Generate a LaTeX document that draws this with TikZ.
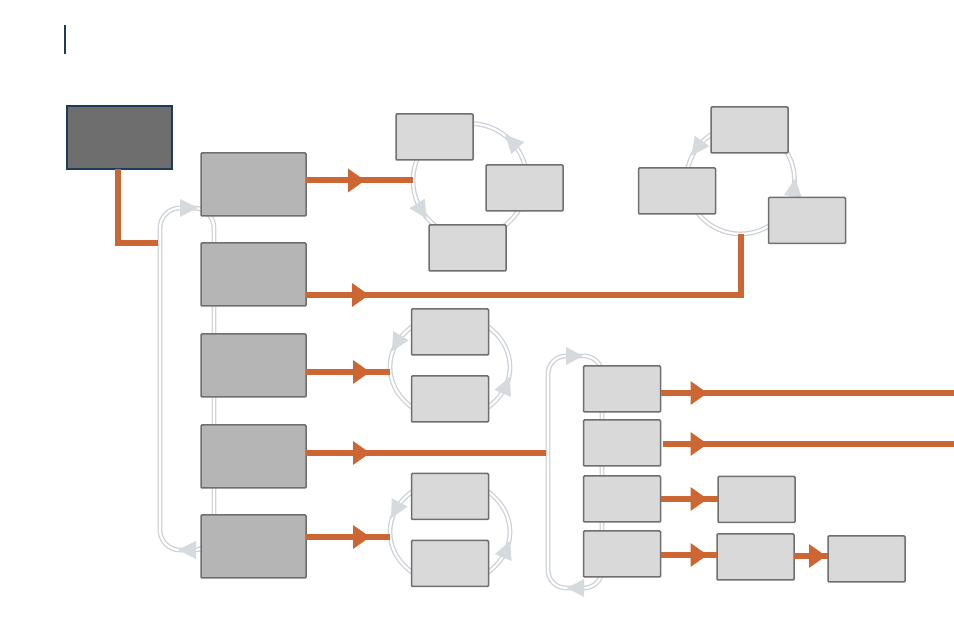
\documentclass[tikz,border=0pt]{standalone}
\usetikzlibrary{decorations.markings}
\definecolor{orng}{HTML}{CC6633}
\definecolor{navy}{HTML}{1F3A5C}
\definecolor{darkfill}{HTML}{6E6E6E}
\definecolor{midfill}{HTML}{B5B5B5}
\definecolor{lightfill}{HTML}{D9D9D9}
\definecolor{boxline}{HTML}{6F6F6F}
\definecolor{loopgray}{HTML}{CCD2D8}
\definecolor{loopfill}{HTML}{D5DADF}
\newcommand\gtri{\fill[loopfill] (9pt,0pt) -- (-9pt,9pt) -- (-9pt,-9pt) -- cycle;}
\newcommand\otri{\fill[orng] (1pt,0pt) -- (-16pt,12pt) -- (-16pt,-12pt) -- cycle;}
\begin{document}
\begin{tikzpicture}[x=1pt,y=1pt,
 darkbox/.style={draw=navy,fill=darkfill,line width=1.5pt,minimum width=105pt,minimum height=63pt,inner sep=0pt,outer sep=0pt},
 midbox/.style={draw=boxline,fill=midfill,line width=1.5pt,rounded corners=1pt,minimum width=105pt,minimum height=63pt,inner sep=0pt,outer sep=0pt},
 lightbox/.style={draw=boxline,fill=lightfill,line width=1.5pt,rounded corners=1pt,minimum width=77pt,minimum height=46pt,inner sep=0pt,outer sep=0pt},
 loopline/.style={draw=loopgray,double=white,line width=1.3pt,double distance=2.2pt},
 gmark/.style={postaction={decorate,decoration={markings,mark=at position #1 with {\gtri}}}},
 oline/.style={draw=orng,line width=6pt},
 omark/.style={postaction={decorate,decoration={markings,mark=at position #1 with {\otri}}}}]
\useasboundingbox (0,0) rectangle (954,644);
% header mark
\draw[navy,line width=1.5pt] (65,619) -- (65,590);
% gray loops (behind boxes)
\draw[loopline,rounded corners=20pt] (160,300) -- (160,436) -- (214,436) -- (214,94) -- (160,94) -- cycle;
\fill[loopfill] (198,436) -- ++(-18,9) -- ++(0,-18) -- cycle;
\fill[loopfill] (178,94) -- ++(18,9) -- ++(0,-18) -- cycle;
\draw[loopline,rounded corners=18pt] (548,200) -- (548,288) -- (602,288) -- (602,56) -- (548,56) -- cycle;
\fill[loopfill] (583,288) -- ++(-17,9) -- ++(0,-18) -- cycle;
\fill[loopfill] (567,56) -- ++(17,9) -- ++(0,-18) -- cycle;
\draw[loopline,gmark=0.12,gmark=0.59] (470,463.5) ++(57,0) arc[start angle=0,end angle=360,radius=57];
\draw[loopline,gmark=0.40,gmark=0.978] (740.5,464) ++(54,0) arc[start angle=0,end angle=360,radius=54];
\draw[loopline,gmark=0.43,gmark=0.947] (450,277) ++(60,0) arc[start angle=0,end angle=360,x radius=60,y radius=52];
\draw[loopline,gmark=0.436,gmark=0.95] (450,112) ++(60,0) arc[start angle=0,end angle=360,x radius=60,y radius=52];
% boxes
\node[darkbox] (d0) at (119.5,506.5) {};
\node[midbox] (m1) at (253.5,459.5) {};
\node[midbox] (m2) at (253.5,369.5) {};
\node[midbox] (m3) at (253.5,278.5) {};
\node[midbox] (m4) at (253.5,187.5) {};
\node[midbox] (m5) at (253.5,97.5) {};
\node[lightbox] (b1) at (434.5,507) {};
\node[lightbox] (b2) at (524.5,456) {};
\node[lightbox] (b3) at (467.5,396) {};
\node[lightbox] (c1) at (749.5,514) {};
\node[lightbox] (c2) at (677,453) {};
\node[lightbox] (c3) at (807,423.5) {};
\node[lightbox] (dd1) at (450,312) {};
\node[lightbox] (dd2) at (450,245) {};
\node[lightbox] (dd3) at (450,147.5) {};
\node[lightbox] (dd4) at (450,80.5) {};
\node[lightbox] (e1) at (622,255) {};
\node[lightbox] (e2) at (622,201) {};
\node[lightbox] (e3) at (622,145) {};
\node[lightbox] (e4) at (622,90) {};
\node[lightbox] (f1) at (756.5,144.5) {};
\node[lightbox] (f2) at (755.5,87) {};
\node[lightbox] (f3) at (866.5,85) {};
% connector end points
\coordinate (j0) at (158,400.5);
\coordinate (l1w) at (413,463.5);
\coordinate (l2s) at (740.5,410);
\coordinate (l3w) at (390,272);
\coordinate (j4) at (546,191);
\coordinate (l4w) at (390,107);
\coordinate (r1) at (954,251);
\coordinate (r2) at (954,200);
% orange connectors
\draw[oline] ([xshift=-1.5pt]d0.south) |- (j0);
\draw[oline,omark=58pt] ([yshift=4pt]m1.east) -- (l1w);
\draw[oline,omark=62pt] ([yshift=-20.5pt]m2.east) -| (l2s);
\draw[oline,omark=63pt] ([yshift=-6.5pt]m3.east) -- (l3w);
\draw[oline,omark=63pt] ([yshift=3.5pt]m4.east) -- (j4);
\draw[oline,omark=63pt] ([yshift=9.5pt]m5.east) -- (l4w);
\draw[oline,omark=46pt] ([yshift=-4pt]e1.east) -- (r1);
\draw[oline,omark=44pt] ([xshift=2pt,yshift=-1pt]e2.east) -- (r2);
\draw[oline,omark=46pt] (e3.east) -- (e3.east -| f1.west);
\draw[oline,omark=46pt] ([yshift=-1pt]e4.east) -- ([yshift=-1pt]e4.east -| f2.west);
\draw[oline,omark=31pt] ([yshift=1pt]f2.east) -- ([yshift=1pt]f2.east -| f3.west);
\end{tikzpicture}
\end{document}
